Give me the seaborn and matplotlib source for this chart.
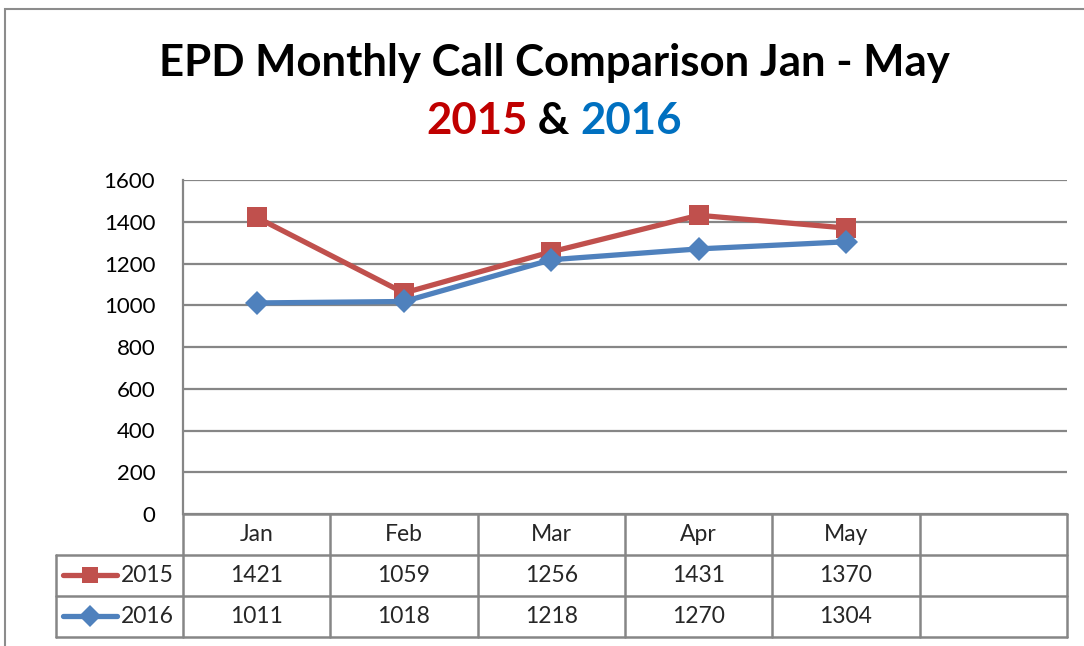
import matplotlib
matplotlib.use("Agg")
import matplotlib.pyplot as plt
from matplotlib.patches import Rectangle
from matplotlib.lines import Line2D
import seaborn as sns
import pandas as pd

# ---- data ----
months = ["Jan", "Feb", "Mar", "Apr", "May", ""]
years = ["2015", "2016"]
calls_2015 = [1421, 1059, 1256, 1431, 1370]
calls_2016 = [1011, 1018, 1218, 1270, 1304]
y_ticks = [0, 200, 400, 600, 800, 1000, 1200, 1400, 1600]
title_line1 = "EPD Monthly Call Comparison Jan - May"

sns.set_theme(style="white")
FONT = "Lato"
plt.rcParams["font.family"] = [FONT, "DejaVu Sans"]

C15 = "#C0504D"
C16 = "#4F81BD"
GRID = "#868686"

W, H = 1084, 646
fig = plt.figure(figsize=(W / 100, H / 100), dpi=100)
fig.patch.set_facecolor("white")


def rect(l, t, r, b):
    return [l / W, 1 - b / H, (r - l) / W, (b - t) / H]


# outer chart frame (only top and left visible)
fig.patches.append(Rectangle((5 / W, -0.05), 1.1, (646 - 9) / H + 0.05,
                             transform=fig.transFigure, fill=False,
                             edgecolor="#8C8C8C", lw=1.5, clip_on=False))

ax = fig.add_axes(rect(183, 180, 1067, 514))
tax = fig.add_axes(rect(56, 514, 1067, 637))

# long-form data
rows = []
for i, v in enumerate(calls_2015):
    rows.append({"pos": i, "calls": v, "year": "2015"})
for i, v in enumerate(calls_2016):
    rows.append({"pos": i, "calls": v, "year": "2016"})
df = pd.DataFrame(rows)

sns.lineplot(data=df, x="pos", y="calls", hue="year", style="year",
             palette={"2015": C15, "2016": C16},
             markers={"2015": "s", "2016": "D"}, dashes=False,
             linewidth=3.8, markersize=14, markeredgewidth=0,
             legend=False, ax=ax)
for ln in ax.lines:
    if ln.get_marker() == "D":
        ln.set_markersize(12)

ncat = len(months)
ax.set_xlim(-0.5, ncat - 0.5)
ax.set_ylim(0, 1600)
ax.set_yticks(y_ticks)
ax.set_yticklabels([str(t) for t in y_ticks], fontsize=16, color="black")
ax.set_xticks([])
ax.set_xlabel("")
ax.set_ylabel("")
ax.tick_params(axis="y", length=0, pad=20)
ax.grid(axis="y", color=GRID, lw=1.6)
ax.grid(axis="x", visible=False)
for s in ["top", "right", "bottom"]:
    ax.spines[s].set_visible(False)
ax.spines["left"].set_color(GRID)
ax.spines["left"].set_linewidth(1.6)
ax.set_facecolor("none")

# ---- data table ----
unit = (1067 - 183) / ncat
left_x = -0.5 - (183 - 56) / unit
tax.set_xlim(left_x, ncat - 0.5)
tax.set_ylim(3, 0)
tax.axis("off")
lkw = dict(color=GRID, lw=1.8, clip_on=False)
tax.plot([-0.5, ncat - 0.5], [0, 0], **lkw)
for yy in [1, 2, 3]:
    tax.plot([left_x, ncat - 0.5], [yy, yy], **lkw)
tax.plot([left_x, left_x], [1, 3], **lkw)
for k in range(ncat + 1):
    tax.plot([k - 0.5, k - 0.5], [0, 3], **lkw)

TFS = 16.5
for i, m in enumerate(months):
    tax.text(i, 0.5, m, ha="center", va="center", fontsize=TFS)
for r, (yr, vals) in enumerate([("2015", calls_2015), ("2016", calls_2016)]):
    for i, v in enumerate(vals):
        tax.text(i, 1.5 + r, str(v), ha="center", va="center", fontsize=TFS)
    tax.text(-0.5 - 9 / unit, 1.5 + r, yr, ha="right", va="center", fontsize=TFS)

# legend keys inside the table
for (yr, col, mk, ms), yk in zip([("2015", C15, "s", 12), ("2016", C16, "D", 11)],
                                 [1 - 575 / H, 1 - 616 / H]):
    fig.add_artist(Line2D([63 / W, 117 / W], [yk, yk], color=col, lw=3.8,
                          solid_capstyle="round", transform=fig.transFigure))
    fig.add_artist(Line2D([90 / W], [yk], color=col, marker=mk, markersize=ms,
                          markeredgewidth=0, transform=fig.transFigure))

# ---- title ----
TS = 31.5
cx = 554 / W
fig.text(cx, 1 - 63 / H, title_line1, ha="center", va="center",
         fontsize=TS, fontweight="bold", color="black")

parts = [("2015", "#C00000"), (" & ", "black"), ("2016", "#0070C0")]
renderer = fig.canvas.get_renderer()
tmp = []
widths = []
for txt, col in parts:
    t = fig.text(0, 0, txt, fontsize=TS, fontweight="bold", color=col)
    widths.append(t.get_window_extent(renderer).width)
    tmp.append(t)
total = sum(widths)
x0 = cx * W - total / 2
for t, w in zip(tmp, widths):
    t.set_position((x0 / W, 1 - 121 / H))
    t.set_va("center")
    t.set_ha("left")
    x0 += w

fig.savefig("out.png", dpi=100, facecolor="white")
